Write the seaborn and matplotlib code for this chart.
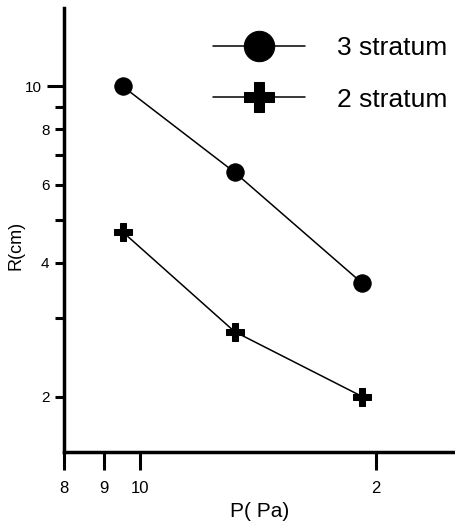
import numpy as np
import pandas as pd
import seaborn as sns
import matplotlib
matplotlib.use('Agg')
import matplotlib.pyplot as plt
from matplotlib.ticker import FixedLocator, FixedFormatter, NullLocator

# pressure (Pa) and radius (cm)
P_3 = [9.5, 13.2, 19.2]
R_3 = [10.0, 6.4, 3.6]
P_2 = [9.5, 13.2, 19.2]
R_2 = [4.7, 2.8, 2.0]

X_TICKS = [8, 9, 10, 20]
X_LABELS = ['8', '9', '10', '2']
Y_MAJOR = [10]
Y_MINOR = [2, 3, 4, 5, 6, 7, 8, 9]
Y_MINOR_LABELS = ['2', '', '4', '', '6', '', '8', '']

sns.set_theme(style='ticks')
plt.rcParams['font.family'] = ['Liberation Sans', 'DejaVu Sans']
for key in ['text.color', 'axes.labelcolor', 'xtick.color', 'ytick.color']:
    plt.rcParams[key] = 'black'

df3 = pd.DataFrame({'P': P_3, 'R': R_3})
df2 = pd.DataFrame({'P': P_2, 'R': R_2})

fig = plt.figure(figsize=(4.56, 5.27), dpi=100)
ax = fig.add_axes([0.1404, 0.1423, 0.857, 0.8425])

sns.lineplot(data=df3, x='P', y='R', ax=ax, color='black', linewidth=1.1,
             marker='o', markersize=12.5, markeredgecolor='black',
             label='3 stratum')
sns.lineplot(data=df2, x='P', y='R', ax=ax, color='black', linewidth=1.1,
             marker='P', markersize=12.5, markeredgecolor='black',
             label='2 stratum')

ax.set_xscale('log')
ax.set_yscale('log')
ax.set_xlim(8, 25.2)
ax.set_ylim(1.5, 15)

ax.xaxis.set_major_locator(FixedLocator(X_TICKS))
ax.xaxis.set_major_formatter(FixedFormatter(X_LABELS))
ax.xaxis.set_minor_locator(NullLocator())
ax.yaxis.set_major_locator(FixedLocator(Y_MAJOR))
ax.yaxis.set_major_formatter(FixedFormatter(['10']))
ax.yaxis.set_minor_locator(FixedLocator(Y_MINOR))
ax.yaxis.set_minor_formatter(FixedFormatter(Y_MINOR_LABELS))

ax.tick_params(axis='x', which='major', direction='out', length=13, width=2.2,
               labelsize=12, pad=8, color='black')
ax.tick_params(axis='y', which='major', direction='out', length=12, width=2.2,
               labelsize=11, pad=4, color='black')
ax.tick_params(axis='y', which='minor', direction='out', length=6.5, width=2.2,
               labelsize=11, pad=4, color='black')

sns.despine(ax=ax)
for side in ['left', 'bottom']:
    ax.spines[side].set_linewidth(2.5)
    ax.spines[side].set_color('black')

ax.set_xlabel('P( Pa)', fontsize=15, labelpad=4)
ax.set_ylabel('R(cm)', fontsize=13)
ax.yaxis.set_label_coords(-0.10, 0.466)

ax.legend(loc='upper left', bbox_to_anchor=(0.467, 0.931),
          bbox_transform=fig.transFigure, frameon=False, fontsize=19,
          handlelength=3.5, handletextpad=1.2, labelspacing=1.03,
          markerscale=1.75, borderpad=0, borderaxespad=0)

plt.savefig('out.png', dpi=100)
